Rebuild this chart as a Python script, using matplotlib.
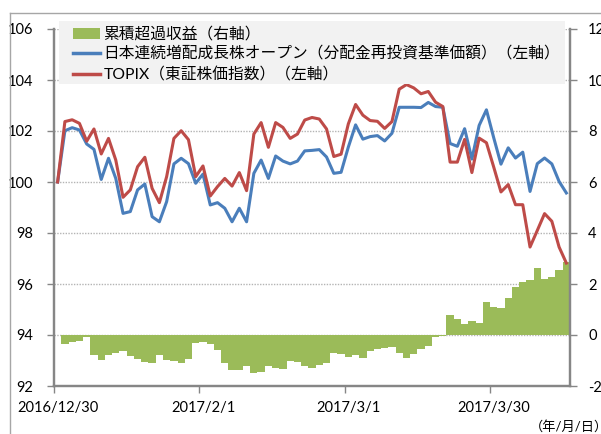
import numpy as np
import matplotlib
matplotlib.use('Agg')
import matplotlib.pyplot as plt
from matplotlib.patches import Rectangle, Patch
from matplotlib.lines import Line2D

plt.rcParams['font.family'] = ['Lato', 'Noto Sans CJK JP', 'DejaVu Sans']
plt.rcParams['axes.unicode_minus'] = False

# data (one value per trading day, 2016/12/30 .. 2017/4/13)
fund = [100.00, 102.01, 102.13, 102.04, 101.49, 101.28, 100.10, 100.93, 100.14, 98.77,
        98.84, 99.69, 99.92, 98.64, 98.44, 99.23, 100.71, 100.93, 100.72, 99.95,
        100.31, 99.10, 99.19, 98.97, 98.44, 98.97, 98.44, 100.34, 100.86, 100.14,
        101.02, 100.82, 100.71, 100.82, 101.22, 101.24, 101.27, 100.98, 100.34, 100.38,
        101.37, 102.24, 101.68, 101.78, 101.82, 101.61, 101.91, 102.93, 102.93, 102.93,
        102.92, 103.12, 102.96, 102.93, 101.51, 101.40, 102.09, 100.90, 102.22, 102.83,
        101.74, 100.70, 101.34, 100.94, 101.17, 99.63, 100.72, 100.94, 100.71, 100.02,
        99.57]
topix = [100.00, 102.37, 102.44, 102.30, 101.60, 102.08, 101.10, 101.71, 100.86, 99.40,
         99.69, 100.60, 100.97, 99.75, 99.19, 100.21, 101.71, 102.01, 101.66, 100.21,
         100.63, 99.45, 99.82, 100.14, 99.84, 100.37, 99.66, 101.88, 102.33, 101.36,
         102.33, 102.14, 101.71, 101.88, 102.43, 102.53, 102.47, 102.08, 101.00, 101.09,
         102.28, 103.04, 102.62, 102.41, 102.38, 102.10, 102.37, 103.64, 103.82, 103.69,
         103.46, 103.55, 103.13, 102.96, 100.78, 100.78, 101.67, 100.37, 101.72, 101.54,
         100.59, 99.61, 99.90, 99.11, 99.11, 97.45, 98.10, 98.76, 98.46, 97.45,
         96.82]
excess = [0.00, -0.35, -0.28, -0.24, -0.08, -0.80, -0.98, -0.79, -0.70, -0.61,
          -0.83, -0.96, -1.04, -1.09, -0.79, -0.97, -1.01, -1.09, -0.93, -0.30,
          -0.29, -0.37, -0.57, -1.08, -1.38, -1.38, -1.20, -1.50, -1.47, -1.23,
          -1.28, -1.32, -1.02, -1.06, -1.22, -1.28, -1.18, -1.11, -0.72, -0.75,
          -0.85, -0.78, -0.92, -0.61, -0.56, -0.50, -0.46, -0.72, -0.92, -0.75,
          -0.56, -0.43, -0.09, -0.02, 0.77, 0.61, 0.43, 0.53, 0.48, 1.31,
          1.09, 1.07, 1.46, 1.87, 2.09, 2.17, 2.64, 2.18, 2.26, 2.55,
          2.88]

tick_pos = [0, 20, 40, 60]
tick_labels = ['2016/12/30', '2017/2/1', '2017/3/1', '2017/3/30']

labels = ['累積超過収益（右軸）',
          '日本連続増配成長株オープン（分配金再投資基準価額）（左軸）',
          'TOPIX（東証株価指数）（左軸）']

GREEN = '#9BBB59'
BLUE = '#4A7EBB'
RED = '#BE4B48'
AXC = '#868686'

W, H = 601, 434
fig = plt.figure(figsize=(W / 100, H / 100), dpi=100)

# outer chart border (only top and left are inside the picture)
fig.add_artist(Line2D([9.5 / W, 1], [1 - 12.5 / H] * 2, transform=fig.transFigure,
                      color='#A6A6A6', lw=1))
fig.add_artist(Line2D([9.5 / W] * 2, [0, 1 - 12.5 / H], transform=fig.transFigure,
                      color='#A6A6A6', lw=1))

ax = fig.add_axes([54 / W, (H - 386) / H, (570 - 54) / W, (386 - 29) / H])
ax2 = ax.twinx()
ax.set_zorder(ax2.get_zorder() + 1)
ax.patch.set_visible(False)

x = np.arange(len(fund))

# bars on the right axis
ax2.bar(x, excess, width=1.0, color=GREEN, linewidth=0)
ax2.set_ylim(-2, 12)
ax2.set_yticks(np.arange(-2, 13, 2))
ax2.set_axisbelow(True)
ax2.yaxis.grid(True, linestyle=(0, (1, 1)), color='#B4B4B4', linewidth=1)

# lines on the left axis
ax.plot(x, fund, color=BLUE, lw=2.2, solid_joinstyle='round')
ax.plot(x, topix, color=RED, lw=2.2, solid_joinstyle='round')
ax.set_ylim(92, 106)
ax.set_yticks(np.arange(92, 107, 2))
ax.set_xlim(-0.5, len(fund) - 0.5)

ax.set_xticks(tick_pos)
ax.set_xticklabels(tick_labels)
ax.set_xticks([-0.5, 19.5, 39.5, 59.5], minor=True)
ax.tick_params(axis='x', which='major', length=0, pad=11, labelsize=10.5)
ax.tick_params(axis='x', which='minor', length=5, width=1, color=AXC)
ax.tick_params(axis='y', length=5, width=1, color=AXC, pad=10, labelsize=10.5)
ax2.tick_params(axis='y', length=5, width=1, color=AXC, pad=8, labelsize=10.5)

for a in (ax, ax2):
    a.spines['top'].set_visible(False)
    for s in ('left', 'right', 'bottom'):
        a.spines[s].set_color(AXC)
        a.spines[s].set_linewidth(1.6)

# legend with light gray background
fig.add_artist(Rectangle((59 / W, 1 - 84 / H), (565 - 59) / W, (84 - 21) / H,
                         transform=fig.transFigure, facecolor='#F2F2F2',
                         edgecolor='none', zorder=5))
handles = [Patch(facecolor=GREEN, edgecolor='none'),
           Line2D([], [], color=BLUE, lw=2.5),
           Line2D([], [], color=RED, lw=2.5)]
leg = fig.legend(handles, labels, loc='upper left',
                 bbox_to_anchor=(73 / W, 1 - 27 / H), bbox_transform=fig.transFigure,
                 frameon=False, fontsize=11.3, borderpad=0, borderaxespad=0,
                 handlelength=1.7, handletextpad=0.25, labelspacing=0.32)
leg.set_zorder(6)

fig.text(530 / W, 1 - 426 / H, '（年/月/日）', fontsize=9.5, ha='left', va='center')

fig.savefig('out.png', dpi=100)
